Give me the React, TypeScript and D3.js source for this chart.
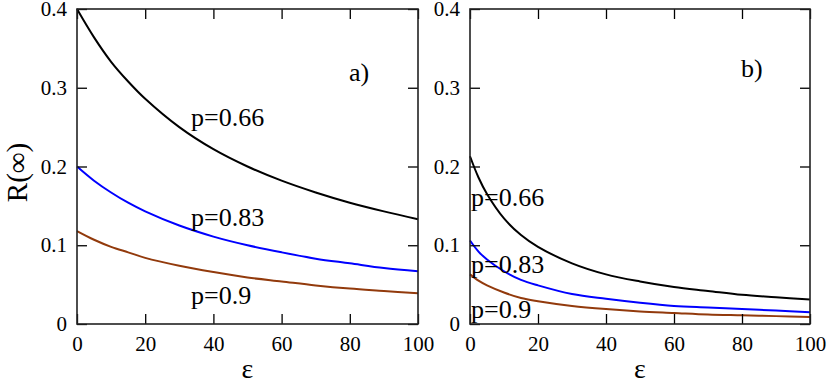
import { useEffect, useRef } from "react";
import * as d3 from "d3";

const W = 830;
const H = 384;

const EPS_A = [0, 5, 10, 15, 20, 30, 40, 50, 60, 70, 80, 90, 100];
const A_066 = [0.4, 0.364, 0.333, 0.308, 0.286, 0.25, 0.222, 0.2, 0.182, 0.167, 0.154, 0.143, 0.133];
const A_083 = [0.2, 0.182, 0.167, 0.154, 0.143, 0.125, 0.111, 0.1, 0.091, 0.083, 0.077, 0.071, 0.067];
const A_090 = [0.118, 0.107, 0.098, 0.091, 0.084, 0.074, 0.066, 0.059, 0.054, 0.049, 0.045, 0.042, 0.039];

const EPS_B = [0, 2.5, 5, 10, 15, 20, 30, 40, 50, 60, 70, 80, 90, 100];
const B_066 = [0.213, 0.186, 0.165, 0.134, 0.113, 0.098, 0.077, 0.063, 0.054, 0.047, 0.042, 0.037, 0.034, 0.031];
const B_083 = [0.106, 0.092, 0.082, 0.067, 0.056, 0.049, 0.038, 0.032, 0.027, 0.023, 0.021, 0.019, 0.017, 0.015];
const B_090 = [0.063, 0.055, 0.049, 0.04, 0.033, 0.029, 0.023, 0.019, 0.016, 0.014, 0.012, 0.011, 0.01, 0.009];

const X_TICKS = [0, 20, 40, 60, 80, 100];
const Y_TICKS = [0, 0.1, 0.2, 0.3, 0.4];
const Y_TICK_LABELS = ["0", "0.1", "0.2", "0.3", "0.4"];

const COLORS = { p066: "#000000", p083: "#0000ff", p090: "#923a0c" };

const FONT = "Liberation Serif, serif";

const PANELS = [
  {
    left: 77, right: 418, tag: "a)", tagX: 349, tagY: 81,
    eps: EPS_A,
    series: [
      { key: "p066", vals: A_066, label: "p=0.66", lx: 191, ly: 126 },
      { key: "p083", vals: A_083, label: "p=0.83", lx: 191, ly: 226 },
      { key: "p090", vals: A_090, label: "p=0.9", lx: 191, ly: 304 },
    ],
  },
  {
    left: 470, right: 810, tag: "b)", tagX: 741, tagY: 77,
    eps: EPS_B,
    series: [
      { key: "p066", vals: B_066, label: "p=0.66", lx: 471, ly: 206 },
      { key: "p083", vals: B_083, label: "p=0.83", lx: 471, ly: 273 },
      { key: "p090", vals: B_090, label: "p=0.9", lx: 471, ly: 318 },
    ],
  },
];

const TOP = 9;
const BOTTOM = 324;

export default function App() {
  const svgRef = useRef<SVGSVGElement | null>(null);

  useEffect(() => {
    document.body.style.margin = "0";
    const svg = d3.select(svgRef.current);
    svg.selectAll("*").remove();

    const y = d3.scaleLinear().domain([0, 0.4]).range([BOTTOM, TOP]);

    PANELS.forEach((p) => {
      const x = d3.scaleLinear().domain([0, 100]).range([p.left, p.right]);
      const g = svg.append("g");

      // curves
      p.series.forEach((s) => {
        const line = d3
          .line<number>()
          .x((_, i) => x(p.eps[i]))
          .y((d) => y(d))
          .curve(d3.curveCatmullRom.alpha(0.5));
        g.append("path")
          .datum(s.vals)
          .attr("d", line)
          .attr("fill", "none")
          .attr("stroke", COLORS[s.key as keyof typeof COLORS])
          .attr("stroke-width", 2);
      });

      // axes, ticks pointing inward on all four sides
      const styleAxis = (sel: any) => {
        sel.attr("font-family", FONT).attr("font-size", 21);
        sel.select(".domain").remove();
        sel.selectAll(".tick line").attr("stroke", "#000").attr("stroke-width", 1.3);
        sel.selectAll(".tick text").attr("fill", "#000");
      };

      const gx = g.append("g").attr("transform", `translate(0,${BOTTOM})`)
        .call(d3.axisBottom(x).tickValues(X_TICKS).tickSize(-10).tickPadding(12).tickFormat(d3.format("d")));
      styleAxis(gx);

      const gxt = g.append("g").attr("transform", `translate(0,${TOP})`)
        .call(d3.axisTop(x).tickValues(X_TICKS).tickSize(-10).tickFormat(() => ""));
      styleAxis(gxt);

      const gy = g.append("g").attr("transform", `translate(${p.left},0)`)
        .call(d3.axisLeft(y).tickValues(Y_TICKS).tickSize(-10).tickPadding(10)
          .tickFormat((_, i) => Y_TICK_LABELS[i]));
      styleAxis(gy);

      const gyr = g.append("g").attr("transform", `translate(${p.right},0)`)
        .call(d3.axisRight(y).tickValues(Y_TICKS).tickSize(-10).tickFormat(() => ""));
      styleAxis(gyr);

      // frame
      g.append("rect")
        .attr("x", p.left)
        .attr("y", TOP)
        .attr("width", p.right - p.left)
        .attr("height", BOTTOM - TOP)
        .attr("fill", "none")
        .attr("stroke", "#222")
        .attr("stroke-width", 1.6);

      // series labels
      p.series.forEach((s) => {
        g.append("text")
          .attr("x", s.lx)
          .attr("y", s.ly)
          .attr("fill", "#000")
          .attr("font-family", FONT)
          .attr("font-size", 26)
          .text(s.label);
      });

      g.append("text")
        .attr("x", p.tagX)
        .attr("y", p.tagY)
        .attr("font-family", FONT)
        .attr("font-size", 26)
        .text(p.tag);

      g.append("text")
        .attr("x", (p.left + p.right) / 2)
        .attr("y", 378)
        .attr("text-anchor", "middle")
        .attr("font-family", FONT)
        .attr("font-size", 28)
        .text("ε");
    });

    svg.append("text")
      .attr("transform", `translate(27,${(TOP + BOTTOM) / 2 + 6}) rotate(-90)`)
      .attr("text-anchor", "middle")
      .attr("font-family", FONT)
      .attr("font-size", 29)
      .text("R(∞)");
  }, []);

  return <svg ref={svgRef} width={W} height={H} style={{ display: "block", background: "#fff" }} />;
}
